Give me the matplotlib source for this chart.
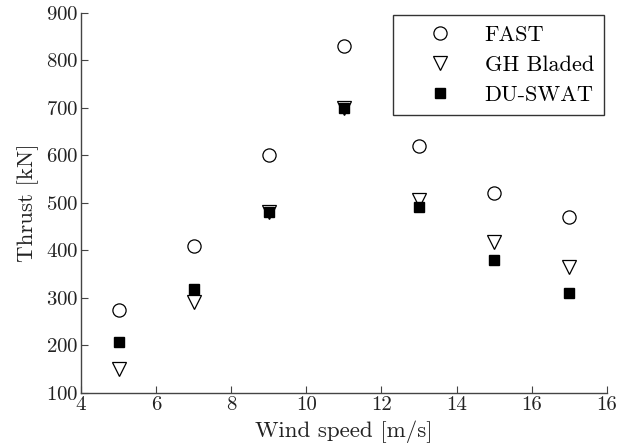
import matplotlib
matplotlib.use("Agg")
import matplotlib.pyplot as plt

plt.rcParams["font.family"] = ["cmr10", "DejaVu Serif"]
plt.rcParams["axes.formatter.use_mathtext"] = True
plt.rcParams["mathtext.fontset"] = "cm"

wind_speed = [5, 7, 9, 11, 13, 15, 17]
thrust_fast = [275, 410, 600, 830, 620, 520, 470]
thrust_bladed = [150, 292, 480, 700, 506, 418, 365]
thrust_duswat = [208, 318, 480, 700, 490, 380, 310]

x_ticks = [4, 6, 8, 10, 12, 14, 16, 18]
x_tick_labels = ["4", "6", "8", "10", "12", "14", "16", "16"]
y_ticks = [100, 200, 300, 400, 500, 600, 700, 800, 900]

fig = plt.figure(figsize=(6.23, 4.48), dpi=100)
ax = fig.add_axes([0.130, 0.123, 0.844, 0.849])

ax.plot(wind_speed, thrust_fast, linestyle="none", marker="o", markersize=9.5,
        markerfacecolor="white", markeredgecolor="black", markeredgewidth=0.9,
        label="FAST")
ax.plot(wind_speed, thrust_bladed, linestyle="none", marker="v", markersize=10,
        markerfacecolor="white", markeredgecolor="black", markeredgewidth=0.9,
        label="GH Bladed")
ax.plot(wind_speed, thrust_duswat, linestyle="none", marker="s", markersize=7,
        markerfacecolor="black", markeredgecolor="black",
        label="DU-SWAT")

ax.set_xlim(4, 18)
ax.set_ylim(100, 900)
ax.set_xticks(x_ticks)
ax.set_xticklabels(x_tick_labels)
ax.set_yticks(y_ticks)

for side in ["top", "right"]:
    ax.spines[side].set_visible(False)
for side in ["left", "bottom"]:
    ax.spines[side].set_color("#444444")
    ax.spines[side].set_linewidth(1.0)

ax.tick_params(direction="in", length=5, width=0.8, color="#444444",
               labelsize=15, labelcolor="#222222", pad=2)

ax.set_xlabel("Wind speed [m/s]", fontsize=16.5, color="#222222", labelpad=5)
ax.set_ylabel("Thrust [kN]", fontsize=16.5, color="#222222", labelpad=5)

leg = ax.legend(loc="upper right", fontsize=16, frameon=True, fancybox=False,
                edgecolor="black", handlelength=3.4, handletextpad=0.3,
                borderpad=0.45, labelspacing=0.48, borderaxespad=0.12)
leg.get_frame().set_linewidth(1.0)

fig.savefig("out.png", dpi=100)
